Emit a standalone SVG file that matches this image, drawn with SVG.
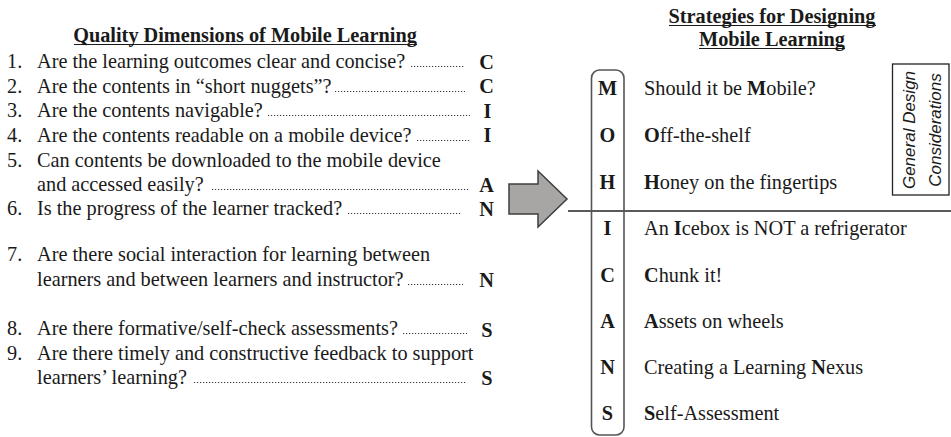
<svg xmlns="http://www.w3.org/2000/svg" width="951" height="437" viewBox="0 0 951 437">
<style>
text{font-family:"Liberation Serif","Times New Roman",serif;font-size:20.3px;fill:#1a1a1a}
.b{font-weight:bold}
.ttl{font-weight:bold;text-anchor:middle}
.ul{stroke:#1a1a1a;stroke-width:1.2}
.lead{stroke:#333;stroke-width:1;stroke-dasharray:1.2 1.8;fill:none}
.let{font-weight:bold;text-anchor:middle}
.pl{font-weight:bold;text-anchor:middle}
.gd{font-family:"Liberation Sans",Arial,sans-serif;font-style:italic;font-size:17px;text-anchor:middle}
</style>
<rect width="951" height="437" fill="#fff"/>
<g id="quality">
<text class="ttl" x="245" y="42">Quality Dimensions of Mobile Learning</text>
<line class="ul" x1="74" y1="44.5" x2="417" y2="44.5"/>
<g id="q1"><text x="7" y="68">1.</text><text x="37" y="68">Are the learning outcomes clear and concise?</text><line class="lead" x1="411" y1="66.5" x2="465" y2="66.5"/><text class="let" x="486.5" y="69">C</text></g>
<g id="q2"><text x="7" y="93">2.</text><text x="37" y="93">Are the contents in “short nuggets”?</text><line class="lead" x1="335" y1="91.5" x2="465" y2="91.5"/><text class="let" x="486.5" y="93">C</text></g>
<g id="q3"><text x="7" y="117">3.</text><text x="37" y="117">Are the contents navigable?</text><line class="lead" x1="268" y1="115.5" x2="470" y2="115.5"/><text class="let" x="487.5" y="118">I</text></g>
<g id="q4"><text x="7" y="142">4.</text><text x="37" y="142">Are the contents readable on a mobile device?</text><line class="lead" x1="417" y1="140.5" x2="471" y2="140.5"/><text class="let" x="487.5" y="142">I</text></g>
<g id="q5"><text x="7" y="167">5.</text><text x="37" y="167">Can contents be downloaded to the mobile device</text><text x="37" y="191">and accessed easily?</text><line class="lead" x1="212" y1="189.5" x2="469" y2="189.5"/><text class="let" x="486.5" y="192">A</text></g>
<g id="q6"><text x="7" y="215">6.</text><text x="37" y="215">Is the progress of the learner tracked?</text><line class="lead" x1="348" y1="213.5" x2="462" y2="213.5"/><text class="let" x="486.5" y="216">N</text></g>
<g id="q7"><text x="7" y="261">7.</text><text x="37" y="261">Are there social interaction for learning between</text><text x="37" y="286">learners and between learners and instructor?</text><line class="lead" x1="408" y1="284.5" x2="463" y2="284.5"/><text class="let" x="486.5" y="287">N</text></g>
<g id="q8"><text x="7" y="335">8.</text><text x="37" y="335">Are there formative/self-check assessments?</text><line class="lead" x1="403" y1="333.5" x2="467" y2="333.5"/><text class="let" x="487" y="337">S</text></g>
<g id="q9"><text x="7" y="360">9.</text><text x="37" y="360">Are there timely and constructive feedback to support</text><text x="37" y="384">learners’ learning?</text><line class="lead" x1="194" y1="382.5" x2="466" y2="382.5"/><text class="let" x="487" y="385">S</text></g>
</g>
<g id="connectors">
<polygon id="arrow" points="509,184 538,184 538,171 567,199 538,227 538,214 509,214" fill="#a8a5a5" stroke="#3f3f3f" stroke-width="1.5" stroke-linejoin="miter"/>
<line id="divider" x1="568" y1="211" x2="951" y2="211" stroke="#5a5a5a" stroke-width="2"/>
</g>
<g id="strategies">
<text class="ttl" x="772" y="23">Strategies for Designing</text>
<line class="ul" x1="669" y1="25.5" x2="876" y2="25.5"/>
<text class="ttl" x="772" y="46">Mobile Learning</text>
<line class="ul" x1="699" y1="48.5" x2="845" y2="48.5"/>
<rect id="mohicans" x="591.5" y="70" width="32.5" height="365" rx="8" fill="none" stroke="#555" stroke-width="1.6"/>
<g id="s-m"><text class="pl" x="607.5" y="95">M</text><text x="644" y="95">Should it be <tspan class="b">M</tspan>obile?</text></g>
<g id="s-o"><text class="pl" x="607.5" y="142">O</text><text x="644" y="142"><tspan class="b">O</tspan>ff-the-shelf</text></g>
<g id="s-h"><text class="pl" x="607.5" y="189">H</text><text x="644" y="189"><tspan class="b">H</tspan>oney on the fingertips</text></g>
<g id="s-i"><text class="pl" x="607.5" y="235">I</text><text x="644" y="235">An <tspan class="b">I</tspan>cebox is NOT a refrigerator</text></g>
<g id="s-c"><text class="pl" x="607.5" y="282">C</text><text x="644" y="282"><tspan class="b">C</tspan>hunk it!</text></g>
<g id="s-a"><text class="pl" x="607.5" y="328">A</text><text x="644" y="328"><tspan class="b">A</tspan>ssets on wheels</text></g>
<g id="s-n"><text class="pl" x="607.5" y="374">N</text><text x="644" y="374">Creating a Learning <tspan class="b">N</tspan>exus</text></g>
<g id="s-s"><text class="pl" x="607.5" y="420">S</text><text x="644" y="420"><tspan class="b">S</tspan>elf-Assessment</text></g>
</g>
<g id="general-design">
<rect x="892.5" y="64" width="56.5" height="131" fill="#fff" stroke="#222" stroke-width="1.3"/>
<text class="gd" transform="translate(915,130) rotate(-90)">General Design</text>
<text class="gd" transform="translate(941,130) rotate(-90)">Considerations</text>
</g>
</svg>
